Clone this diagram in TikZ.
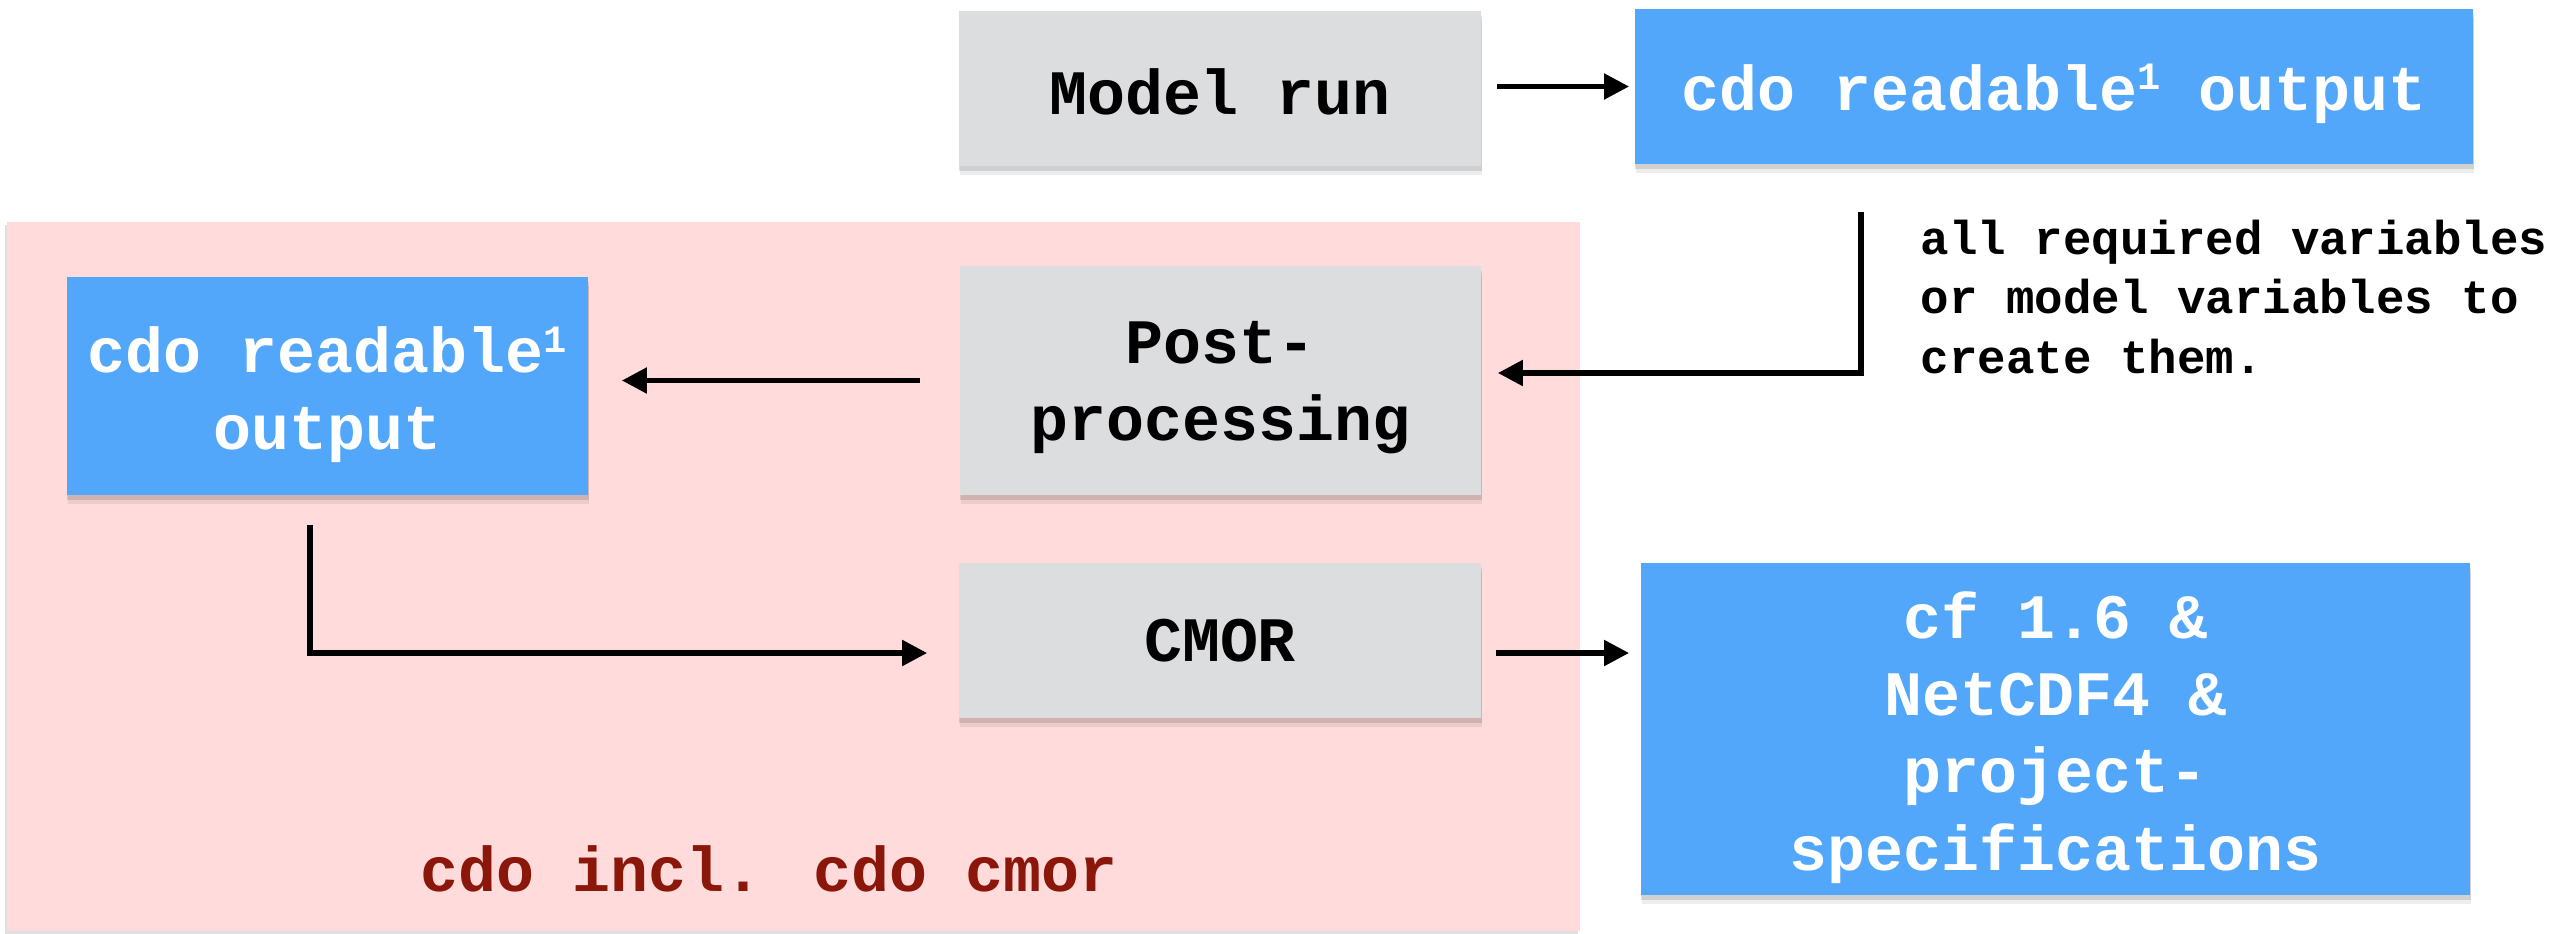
\documentclass[tikz,border=0pt]{standalone}
\usepackage{fontspec}
\setmainfont{Liberation Mono}
\usetikzlibrary{arrows.meta,shadows}
\definecolor{boxgray}{RGB}{220,221,223}
\definecolor{boxblue}{RGB}{82,167,250}
\definecolor{regionpink}{RGB}{255,219,219}
\definecolor{labelred}{RGB}{139,22,10}
\newcommand{\supone}{\raisebox{0.32em}{\fontsize{11}{11}\selectfont 1}}
\tikzset{
  softshadow/.style={
    general shadow={fill=black, opacity=0.07, shadow yshift=-0.09cm, shadow xshift=0.01cm},
    general shadow={fill=black, opacity=0.12, shadow yshift=-0.05cm, shadow xshift=0.005cm}},
  basebox/.style={rectangle, inner sep=0pt, align=center,
    font=\fontsize{18}{22}\selectfont\bfseries, softshadow},
  graybox/.style={basebox, fill=boxgray, text=black},
  bluebox/.style={basebox, fill=boxblue, text=white},
  arr/.style={line width=1.5pt, -{Triangle[length=0.25cm,width=0.25cm]}},
}
\begin{document}
\begin{tikzpicture}[x=0.01cm, y=-0.01cm]
\useasboundingbox (0,0) rectangle (2569,933);
% pink region
\node[rectangle, inner sep=0pt, fill=regionpink, minimum width=15.73cm, minimum height=7.09cm,
  general shadow={fill=black, opacity=0.12, shadow xshift=-0.02cm, shadow yshift=-0.03cm}]
  (region) at (793.5,576.5) {};
\node[anchor=base, text=labelred, font=\fontsize{18}{22}\selectfont\bfseries] (lbl) at (769,891) {cdo incl. cdo cmor};
% boxes
\node[graybox, minimum width=5.22cm, minimum height=1.55cm] (mr) at (1220,88.5) {\rule{0pt}{0.82em}Model run};
\node[bluebox, minimum width=8.38cm, minimum height=1.55cm] (out1) at (2054,86.5) {\rule{0pt}{0.95em}cdo readable\supone{} output};
\node[graybox, minimum width=5.21cm, minimum height=2.29cm] (post) at (1220.5,380.5) {\rule{0pt}{0.9em}Post-\\processing};
\node[bluebox, minimum width=5.21cm, minimum height=2.18cm] (out2) at (327.5,386) {\rule{0pt}{1.0em}cdo readable\supone\\output};
\node[graybox, minimum width=5.22cm, minimum height=1.55cm] (cmor) at (1220,640.5) {CMOR};
\node[bluebox, minimum width=8.29cm, minimum height=3.32cm] (out3) at (2055.5,729) {\rule{0pt}{1.0em}cf 1.6 \&\\NetCDF4 \&\\project-\\specifications};
% annotation
\node[anchor=base west, align=left, inner sep=0pt, font=\fontsize{13.5}{16.8}\selectfont\bfseries] (note) at (1920,373)
  {all required variables\\or model variables to\\create them.};
% connectors
\coordinate (c1) at (1861,212);
\coordinate (c2) at (310,525);
\draw[arr, shorten <=0.15cm, shorten >=0.05cm] (mr.east |- out1.west) -- (out1.west);
\draw[arr] (c1) |- ([xshift=0.16cm, yshift=0.075cm]post.east);
\draw[arr, shorten <=0.39cm, shorten >=0.33cm] (post.west) -- (post.west -| out2.east);
\draw[arr] (c2) |- ([xshift=-0.31cm, yshift=-0.125cm]cmor.west);
\draw[arr, shorten <=0.14cm, shorten >=0.11cm] ([yshift=-0.125cm]cmor.east) -- ([yshift=-0.125cm]cmor.east -| out3.west);
\end{tikzpicture}
\end{document}
